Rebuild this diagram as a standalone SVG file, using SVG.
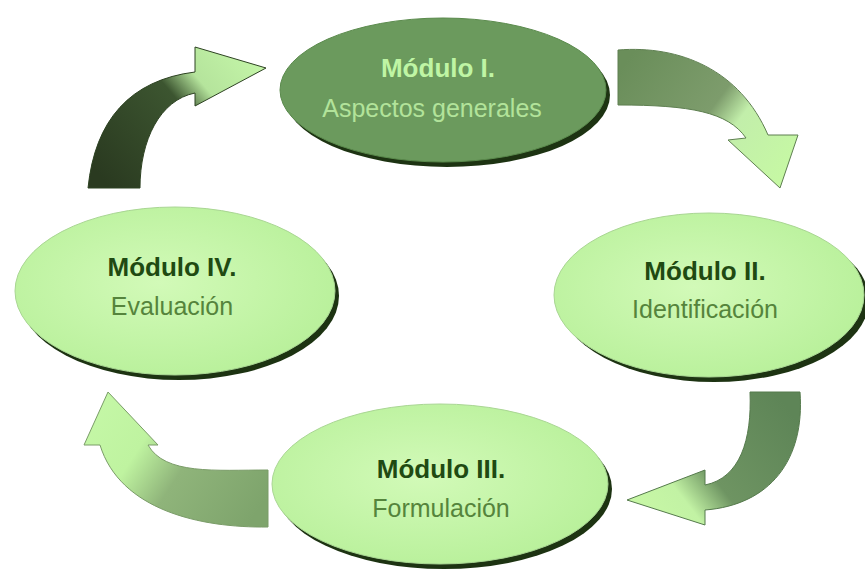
<svg xmlns="http://www.w3.org/2000/svg" width="865" height="576" viewBox="0 0 865 576">
<style>
.t1{font-family:"Liberation Sans",Arial,sans-serif;font-weight:bold;font-size:26px;text-anchor:middle}
.t2{font-family:"Liberation Sans",Arial,sans-serif;font-size:25px;text-anchor:middle}
.light .t1{fill:#1f4a12}
.light .t2{fill:#55843c}
.dark .t1{fill:#bff5a4}
.dark .t2{fill:#b2e39a}
.shadow{fill:#1d3312}
.lf{fill:url(#gLight);stroke:#a9d693;stroke-width:1}
.df{fill:#6b9a5d;stroke:#5a8a4c;stroke-width:1}
</style>
<defs>
<radialGradient id="gLight" cx="0.45" cy="0.45" r="0.6">
<stop offset="0" stop-color="#d2fab8"/>
<stop offset="1" stop-color="#b8f09a"/>
</radialGradient>
<linearGradient id="aTL" gradientUnits="userSpaceOnUse" x1="110" y1="188" x2="260" y2="60">
<stop offset="0" stop-color="#2a3a20"/>
<stop offset="0.55" stop-color="#3c5530"/>
<stop offset="0.7" stop-color="#b5e49c"/>
<stop offset="1" stop-color="#c4f5a8"/>
</linearGradient>
<linearGradient id="aTR" gradientUnits="userSpaceOnUse" x1="620" y1="70" x2="775" y2="185">
<stop offset="0" stop-color="#6a8e5a"/>
<stop offset="0.5" stop-color="#7d9c6c"/>
<stop offset="0.65" stop-color="#c2eeaa"/>
<stop offset="1" stop-color="#c6f8a4"/>
</linearGradient>
<linearGradient id="aBR" gradientUnits="userSpaceOnUse" x1="775" y1="392" x2="630" y2="505">
<stop offset="0" stop-color="#5e8557"/>
<stop offset="0.55" stop-color="#6e9462"/>
<stop offset="0.75" stop-color="#c2f2a4"/>
<stop offset="1" stop-color="#c8f8a6"/>
</linearGradient>
<linearGradient id="aBL" gradientUnits="userSpaceOnUse" x1="265" y1="500" x2="105" y2="395">
<stop offset="0" stop-color="#7ea46c"/>
<stop offset="0.45" stop-color="#8fb47a"/>
<stop offset="0.7" stop-color="#bff3a0"/>
<stop offset="1" stop-color="#c4f7a6"/>
</linearGradient>
</defs>

<g id="connectors">
<path d="M88,188 C95,120 130,80 195,72 L195,47 L266,68 L195,106 L195,93 C160,100 140,140 140,188 Z" fill="url(#aTL)" stroke="#2d4222" stroke-width="1"/>
<path d="M618,50 C680,45 740,70 768,135 L798,135 L780,188 L728,140 L746,138 C728,112 690,105 618,105 Z" fill="url(#aTR)" stroke="#5e7f50" stroke-width="1"/>
<path d="M750,392 L800,392 C805,460 770,505 705,510 L705,525 L627,500 L705,470 L705,485 C740,478 752,440 750,392 Z" fill="url(#aBR)" stroke="#557a4c" stroke-width="1"/>
<path d="M268,470 C215,470 165,475 148,445 L158,445 L108,392 L84,445 L100,445 C120,510 200,528 268,527 Z" fill="url(#aBL)" stroke="#7a9c68" stroke-width="1"/>
</g>

<g id="modulo1" class="dark">
<ellipse class="shadow" cx="447" cy="95" rx="163" ry="72"/>
<ellipse class="df" cx="443" cy="90" rx="163" ry="72"/>
<text class="t1" x="438" y="77">Módulo I.</text>
<text class="t2" x="432" y="117">Aspectos generales</text>
</g>

<g id="modulo2" class="light">
<ellipse class="shadow" cx="714" cy="300" rx="155" ry="82"/>
<ellipse class="lf" cx="709" cy="295" rx="155" ry="82"/>
<text class="t1" x="705" y="280">Módulo II.</text>
<text class="t2" x="705" y="318">Identificación</text>
</g>

<g id="modulo3" class="light">
<ellipse class="shadow" cx="444" cy="489" rx="168" ry="80"/>
<ellipse class="lf" cx="440" cy="484" rx="168" ry="80"/>
<text class="t1" x="441" y="478">Módulo III.</text>
<text class="t2" x="441" y="517">Formulación</text>
</g>

<g id="modulo4" class="light">
<ellipse class="shadow" cx="179" cy="296" rx="160" ry="84"/>
<ellipse class="lf" cx="175" cy="291" rx="160" ry="84"/>
<text class="t1" x="172" y="276">Módulo IV.</text>
<text class="t2" x="172" y="315">Evaluación</text>
</g>
</svg>
